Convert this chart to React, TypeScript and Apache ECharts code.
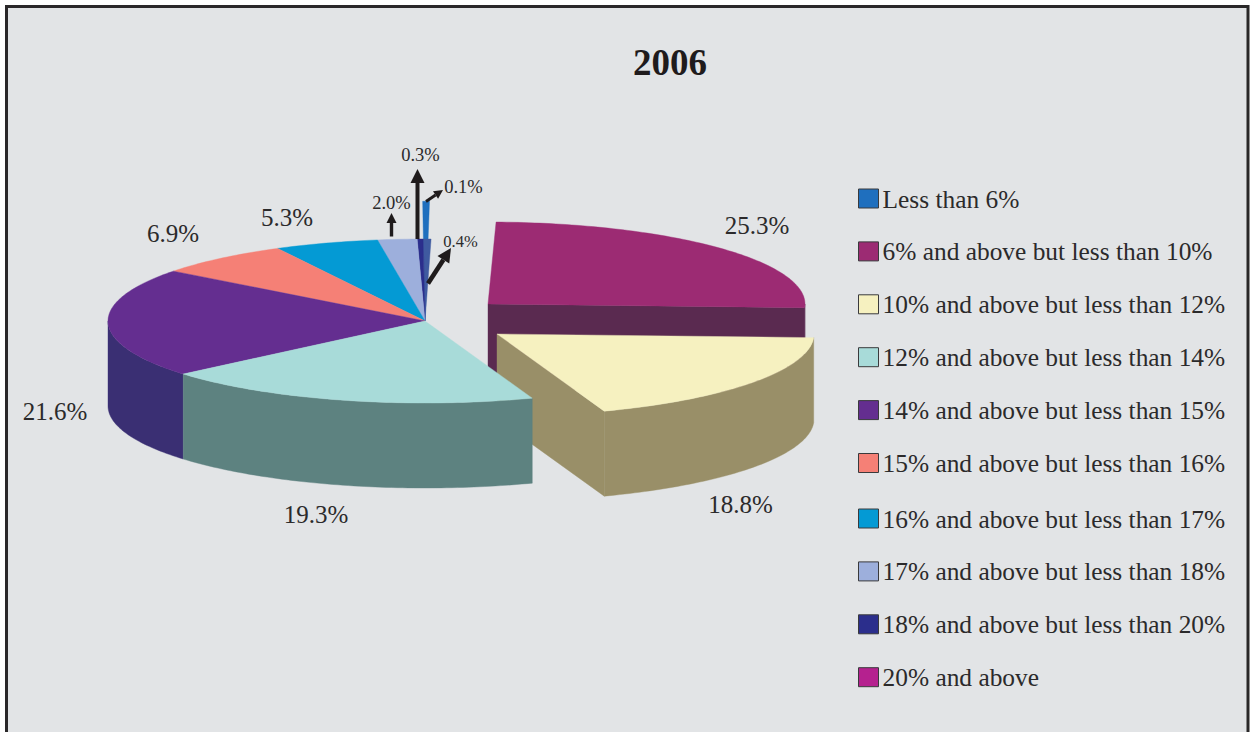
import React, { useEffect, useRef } from "react";
import * as echarts from "echarts";

const WIDTH = 1253;
const HEIGHT = 732;
const SERIF = "'Liberation Serif', 'Times New Roman', serif";

const chartTitle = "2006";
const categories = [
  "Less than 6%",
  "6% and above but less than 10%",
  "10% and above but less than 12%",
  "12% and above but less than 14%",
  "14% and above but less than 15%",
  "15% and above but less than 16%",
  "16% and above but less than 17%",
  "17% and above but less than 18%",
  "18% and above but less than 20%",
  "20% and above",
];
const shares = [0.1, 25.3, 18.8, 19.3, 21.6, 6.9, 5.3, 2.0, 0.3, 0.4];

const legendColors = ["#1F6FBE", "#9C2B73", "#F6F1C0", "#A8DBD9", "#642E90", "#F58076", "#049AD4", "#9DAFDC", "#2B2E8C", "#B5218F"];
const topColors = ["#1F6FBE", "#9C2B73", "#F6F1C0", "#A8DBD9", "#642E90", "#F58076", "#049AD4", "#9DAFDC", "#2B2E8C", "#3F5AA0"];
const sideColors = ["#1F6FBE", "#5A2A50", "#998F68", "#5D8280", "#3A2F73", "#F58076", "#049AD4", "#9DAFDC", "#2B2E8C", "#3F5AA0"];

// Layout of the drawing, separate from the values.
const PIE = { cx: 425, cy: 321, rx: 317, ry: 82, depth: 85, firstAngle: 88.9 };
const centers: Record<number, [number, number]> = { 1: [488, 304], 2: [497, 334] };
const paintOrder = [0, 1, 2, 9, 8, 7, 6, 5, 4, 3];
const labelLayout = [
  { x: 463.5, y: 187, size: 18.5 },
  { x: 757, y: 225, size: 25 },
  { x: 740.5, y: 504, size: 25 },
  { x: 316, y: 514, size: 25 },
  { x: 55, y: 411, size: 25 },
  { x: 173, y: 233, size: 25 },
  { x: 287, y: 217, size: 25 },
  { x: 391.5, y: 203, size: 18.5 },
  { x: 420.5, y: 155, size: 18.5 },
  { x: 460.5, y: 241, size: 16.5 },
];
const arrows = [
  { from: [426, 201.5], to: [443, 190], shaft: 3, head: 9 },
  { from: [391.5, 236.5], to: [391.5, 213], shaft: 3.4, head: 10 },
  { from: [417.5, 239], to: [417.5, 169], shaft: 4, head: 14 },
  { from: [428, 283.5], to: [451, 248], shaft: 4.6, head: 14 },
];

const SWEEP_PER_SHARE = 3.6;
const ARC_STEP = 1;
const SLIVER_SWEEP = 0.85;
const SLIVER_OFFSET = 0.9;
const SLIVER_PULL = 1.46;

const total = shares.reduce((a, b) => a + b, 0);
const bounds: [number, number][] = [];
{
  let angle = PIE.firstAngle;
  shares.forEach((v) => {
    const next = angle - (v / total) * 100 * SWEEP_PER_SHARE;
    bounds.push([angle, next]);
    angle = next;
  });
}

const rad = (d: number) => (d * Math.PI) / 180;
const rim = (cx: number, cy: number, t: number, pull = 1): [number, number] => [
  cx + PIE.rx * pull * Math.cos(rad(t)),
  cy - PIE.ry * pull * Math.sin(rad(t)),
];
const arc = (cx: number, cy: number, from: number, to: number, pull = 1) => {
  const pts: [number, number][] = [];
  const n = Math.max(1, Math.ceil(Math.abs(from - to) / ARC_STEP));
  for (let k = 0; k <= n; k++) pts.push(rim(cx, cy, from + ((to - from) * k) / n, pull));
  return pts;
};
const shift = (pts: [number, number][], dy: number) => pts.map(([x, y]) => [x, y + dy]);

function sliceChildren(i: number) {
  const [c0, c1] = centers[i] || [PIE.cx, PIE.cy];
  const top = topColors[i];
  const side = sideColors[i];
  const children: any[] = [];
  const poly = (points: any[], color: string) =>
    children.push({ type: "polygon", shape: { points }, style: { fill: color, stroke: color, lineWidth: 0.4 } });

  if (i === 0) {
    // A share this small is drawn with a minimum sweep, pulled out beyond the rim.
    const end = bounds[0][1] + SLIVER_OFFSET;
    poly([[c0, c1], ...arc(c0, c1, end + SLIVER_SWEEP, end, SLIVER_PULL)], top);
    return children;
  }
  const [a, b] = bounds[i];
  const isExploded = !!centers[i];
  if (isExploded && Math.cos(rad(b)) > 0) {
    const p = rim(c0, c1, b);
    poly([[c0, c1], p, [p[0], p[1] + PIE.depth], [c0, c1 + PIE.depth]], side);
  }
  // the part of the rim that faces the viewer
  const lo = Math.max(b, -180);
  const hi = Math.min(a, 0);
  const ranges: [number, number][] = [];
  if (hi > lo) ranges.push([hi, lo]);
  const lo2 = Math.max(b, -540);
  const hi2 = Math.min(a, -360);
  if (hi2 > lo2) ranges.push([hi2, lo2]);
  ranges.forEach(([from, to]) => {
    const upper = arc(c0, c1, from, to);
    poly([...upper, ...shift(upper, PIE.depth).reverse()], side);
  });
  poly([[c0, c1], ...arc(c0, c1, a, b)], top);
  return children;
}

const arrowElements = () =>
  arrows.flatMap((ar) => {
    const [x0, y0] = ar.from;
    const [x1, y1] = ar.to;
    const len = Math.hypot(x1 - x0, y1 - y0);
    const ux = (x1 - x0) / len;
    const uy = (y1 - y0) / len;
    const bx = x1 - ux * ar.head;
    const by = y1 - uy * ar.head;
    const hw = ar.head / 2;
    return [
      { type: "line", z: 60, shape: { x1: x0, y1: y0, x2: bx, y2: by }, style: { stroke: "#1F1B1C", lineWidth: ar.shaft } },
      {
        type: "polygon",
        z: 60,
        shape: { points: [[x1, y1], [bx - uy * hw, by + ux * hw], [bx + uy * hw, by - ux * hw]] },
        style: { fill: "#1F1B1C" },
      },
    ];
  });

const labelElements = () =>
  shares.map((v, i) => ({
    type: "text",
    z: 70,
    x: labelLayout[i].x,
    y: labelLayout[i].y,
    style: {
      text: `${v.toFixed(1)}%`,
      font: `${labelLayout[i].size}px ${SERIF}`,
      fill: "#2B2A2B",
      align: "center",
      verticalAlign: "middle",
    },
  }));

const legendBase = {
  orient: "vertical",
  left: 853,
  itemWidth: 20,
  itemHeight: 19,
  selectedMode: false,
  icon: "rect",
  itemStyle: { borderColor: "#3A3A3C", borderWidth: 1 },
  textStyle: { fontFamily: SERIF, fontSize: 25.4, color: "#2B2A2B", padding: [0, 0, 0, -1] },
};

export default function App() {
  const ref = useRef<HTMLDivElement>(null);
  useEffect(() => {
    document.body.style.margin = "0";
    const chart = echarts.init(ref.current!, undefined, { renderer: "svg" });
    chart.setOption({
      animation: false,
      backgroundColor: "#FFFFFF",
      title: {
        text: chartTitle,
        left: 665,
        top: 39,
        textAlign: "center",
        textStyle: { fontFamily: SERIF, fontSize: 37, fontWeight: "bold", color: "#1F1B1C" },
      },
      legend: [
        { ...legendBase, top: 181, itemGap: 27.9, data: categories.slice(0, 6) },
        { ...legendBase, top: 501, itemGap: 27.9, data: categories.slice(6) },
      ],
      graphic: {
        elements: [
          {
            type: "rect",
            z: -10,
            shape: { x: 6.5, y: 6.5, width: 1241.5, height: 760 },
            style: { fill: "#E2E4E6", stroke: "#2A2829", lineWidth: 3 },
          },
          ...arrowElements(),
          ...labelElements(),
        ],
      },
      series: categories.map((name, i) => ({
        type: "custom",
        name,
        coordinateSystem: "none",
        z: 5 + paintOrder.indexOf(i),
        itemStyle: { color: legendColors[i] },
        data: [[shares[i]]],
        renderItem: () => ({ type: "group", children: sliceChildren(i) }),
      })),
    });
    return () => chart.dispose();
  }, []);
  return <div ref={ref} style={{ width: WIDTH, height: HEIGHT }} />;
}
